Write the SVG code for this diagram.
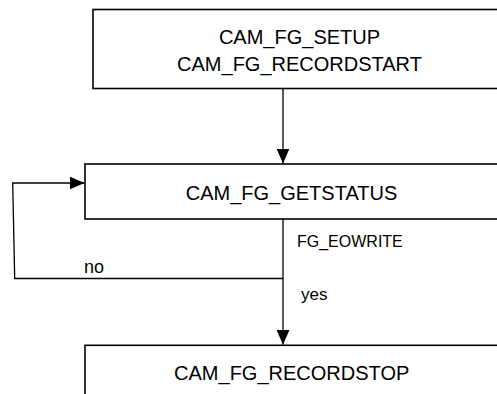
<svg xmlns="http://www.w3.org/2000/svg" width="497" height="394" viewBox="0 0 497 394">
  <style>
    .box { fill: #ffffff; stroke: #000000; stroke-width: 1.6; }
    .lbl { font-family: "Liberation Sans", Arial, sans-serif; font-size: 20px; fill: #000000; text-anchor: middle; }
    .note { font-family: "Liberation Sans", Arial, sans-serif; fill: #000000; }
    .wire { fill: none; stroke: #000000; stroke-width: 1.3; }
  </style>
  <defs>
    <marker id="arrow" markerWidth="15" markerHeight="13" refX="15" refY="6.5" orient="auto" markerUnits="userSpaceOnUse">
      <path d="M0,0 L15,6.5 L0,13 Z" fill="#000000"/>
    </marker>
  </defs>

  <rect x="0" y="0" width="497" height="394" fill="#ffffff"/>

  <!-- setup / start recording -->
  <g id="node-setup">
    <rect class="box" x="93" y="9.5" width="420" height="79"/>
    <text class="lbl" x="299.5" y="43.5">CAM_FG_SETUP</text>
    <text class="lbl" x="299.5" y="71">CAM_FG_RECORDSTART</text>
  </g>

  <!-- status polling -->
  <g id="node-getstatus">
    <rect class="box" x="85" y="164" width="430" height="55"/>
    <text class="lbl" x="291.5" y="200">CAM_FG_GETSTATUS</text>
  </g>

  <!-- stop recording -->
  <g id="node-recordstop">
    <rect class="box" x="85" y="345.3" width="430" height="70"/>
    <text class="lbl" x="291.7" y="379.5">CAM_FG_RECORDSTOP</text>
  </g>

  <g id="connectors">
    <path class="wire" d="M283,89 L283,163.5" marker-end="url(#arrow)"/>
    <path class="wire" d="M283,219 L283,344.8" marker-end="url(#arrow)"/>
    <path class="wire" d="M283,278.5 L14.7,278.5 L12.7,183 L84.5,183" marker-end="url(#arrow)"/>
    <text class="note" x="297" y="247" font-size="16">FG_EOWRITE</text>
    <text class="note" x="84" y="273" font-size="18">no</text>
    <text class="note" x="301" y="300" font-size="17">yes</text>
  </g>
</svg>
